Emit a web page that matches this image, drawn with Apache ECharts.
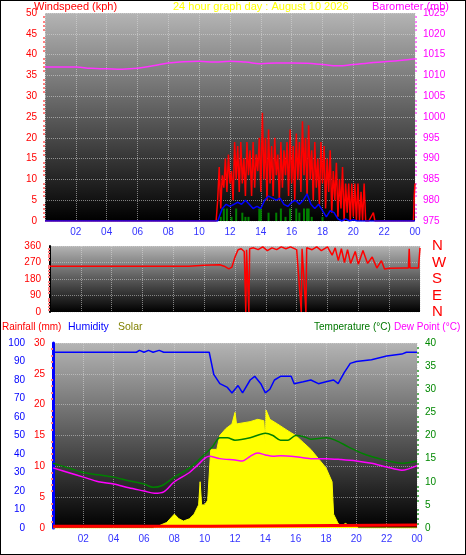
<!DOCTYPE html>
<html><head><meta charset="utf-8">
<script src="https://cdn.jsdelivr.net/npm/echarts@6/dist/echarts.min.js"></script>
<style>html,body{margin:0;padding:0;background:#fff}#c{width:466px;height:555px;box-sizing:border-box;border:1px solid #000}</style>
</head><body><div id="c"></div>
<script>
// ---- data ----
var hourTicks = ['02','04','06','08','10','12','14','16','18','20','22','00'];
var gustStart = 11.0, gustStep = 0.1;
var gust = [0,0,5,13,3,11,8,15,7,16,9,12,5,19,10,18,7,19,9,15,6,19,11,17,6,19,8,16,12,20,7,26,10,20,5,22,9,18,6,20,11,16,5,19,8,17,11,19,6,22,9,18,5,21,10,19,7,24,11,20,6,23,10,17,5,19,8,15,4,19,9,18,3,15,7,17,2,12,5,14,1,10,3,13,0,9,2,9,0,9,1,9,0,9,0,7,0,9,0,0,0];
var gustTail = [[0,0],[11.0,0],[21.0,0],[21.3,2],[21.4,0],[23.9,0],[23.95,6],[24,9]];
var windStart = 11.25, windStep = 0.25;
var wind = [0,3,4,3.5,4,4.5,4,5,4,3,3.5,3,5,6,5.5,5,5.5,4,3.5,4.5,5,4,5,6.5,4,3,4,2.5,1,2.5,2,0.5,0,0.5,0,0.3,0,0];
var lullHours = [11.4,11.6,11.8,12.1,12.4,12.8,13.0,13.2,13.9,14.0,14.5,15.0,15.3,15.6,15.9,16.3,16.5,16.8,17.0,17.1,17.3,18.0];
var lull =      [1,3,3,1,3,2,1,1,3,3,2,2,3,1,3,3,2,3,3,3,1,1];
var baro = [[0,1012],[1,1012],[2,1012],[3,1011.7],[4,1011.6],[5,1011.5],[6,1011.7],[7,1012.3],[8,1013],[9,1013.3],[10,1013.4],[11,1013.2],[12,1013.4],[13,1013.2],[14,1012.8],[15,1013],[16,1013],[17,1012.9],[18,1012.6],[19,1012.3],[20,1012.6],[21,1013],[22,1013.3],[23,1013.6],[24,1014]];
var windDir = [[0,250],[9,250],[10,255],[11,258],[11.3,250],[11.6,235],[11.8,245],[12,300],[12.2,340],[12.4,345],[12.6,330],[12.7,0],[12.75,340],[12.9,0],[12.95,345],[13.2,350],[13.5,340],[13.8,355],[14.1,335],[14.4,350],[14.7,340],[15.0,355],[15.3,345],[15.6,355],[16.0,340],[16.3,0],[16.35,345],[16.6,0],[16.65,350],[17.0,340],[17.3,355],[17.6,335],[18.0,355],[18.3,310],[18.5,350],[18.7,280],[18.9,345],[19.1,270],[19.3,340],[19.5,265],[19.8,330],[20.0,260],[20.3,335],[20.6,265],[20.9,300],[21.2,240],[21.5,280],[21.7,235],[22,238],[23,240],[23.25,240],[23.3,345],[23.35,240],[23.9,240],[24,350]];
var humidity = [[0,95],[5.5,95],[5.7,96],[6,95],[6.3,96],[6.6,95],[7,96],[7.3,95],[10.3,95],[10.6,83],[11,78],[11.5,76],[11.8,73],[12.2,77],[12.5,73],[13,80],[13.3,82],[13.7,78],[14,73],[14.3,75],[14.6,80],[15,82],[15.7,82],[15.9,78],[16.5,79],[17,80],[17.5,78],[18,79],[18.5,80],[18.8,78],[19.2,84],[19.6,89],[20,90],[21,91],[22,93],[23,94],[23.3,95],[24,95]];
var temp = [[0,14],[1,13],[2,12],[3,11.5],[4,11],[5,10.2],[6,9.5],[6.6,8.8],[7.2,9.2],[8,11],[9,13],[9.7,15],[10.5,17.5],[11,19.5],[11.5,19.5],[12,19],[13,19.5],[14,20.5],[14.5,20],[15,19],[15.5,19],[16,20],[16.5,19.8],[17,19.2],[18,19.5],[18.6,19],[19.5,17.5],[20.5,16],[21.5,15],[22.5,14.2],[23,14],[24,14.5]];
var dew = [[0,13],[1,12],[2,11],[3,10],[4,9.5],[5,8.7],[6,8],[6.7,7.5],[7.3,7.8],[8,10],[9,12],[9.5,13.5],[10.3,15.5],[11,15],[12,14.7],[12.5,14.5],[13,15.5],[13.5,16.2],[14,15.8],[14.5,15.5],[15,15.6],[16,15.4],[17,15],[18,15],[19,14.8],[20,14.5],[21,14],[22,13.2],[23,12.5],[24,13.5]];
var solar = [[0,0],[6.6,0],[7,0.5],[7.5,1.2],[8,3],[8.3,2],[8.6,1.5],[9,2],[9.3,3],[9.6,5],[9.7,10],[9.8,5],[10,5],[10.2,6],[10.4,17],[10.8,17],[11,20],[11.4,21.5],[11.8,22.5],[12,25],[12.1,22.5],[13,23],[13.5,23.5],[13.9,23.2],[14,18],[14.05,25.5],[14.3,23.5],[14.8,22.5],[15.5,21],[16,20],[16.5,18.5],[17,17],[17.5,15],[18,13],[18.4,10],[18.5,3],[18.8,1],[19,0.5],[19.3,1],[19.5,0.5],[20,0.5],[20.1,0],[24,0]];
var rain = [[0,0.3],[10.4,0.3],[10.5,0.5],[24,0.5]];
var dirLabels = {0:'N',90:'E',180:'S',270:'W',360:'N'};

// ---- build ----
function seq(start, step, vals){ return vals.map(function(v,i){ return [+(start+i*step).toFixed(3), v]; }); }
var gustData = [[0,0],[10.95,0]].concat(seq(gustStart,gustStep,gust)).concat(gustTail.slice(2));
var windData = [[0,0],[11.2,0]].concat(seq(windStart,windStep,wind)).concat([[24,0]]);
var lullData = lullHours.map(function(h,i){return [h,lull[i]];});

var font = 'Liberation Sans';
function bg(){ return {type:'linear',x:0,y:0,x2:0,y2:1,colorStops:[{offset:0,color:'#b4b4b4'},{offset:1,color:'#000'}]}; }
function xAx(gi, show){
  return {type:'value',gridIndex:gi,min:0,max:24,interval:2,
    axisLine:{show:false},axisTick:{show:false},
    splitLine:{show:true,lineStyle:{color:'rgba(220,220,220,0.55)',type:'dotted'}},
    minorTick:{show:false},
    axisLabel:{show:show,color:'#3333ff',fontSize:10,fontFamily:font,margin:6,
      formatter:function(v){ if(v===0) return ''; var i=v/2-1; return hourTicks[i]; }}};
}
function yAx(gi,o){
  var base = {type:'value',gridIndex:gi,axisTick:{show:false},
    splitLine:{show:false},
    axisLabel:{fontSize:10,fontFamily:font,margin:7},
    minorTick:{show:true,splitNumber:5,length:3,lineStyle:{type:'dotted',width:2}},
    axisLine:{show:false}};
  return Object.assign(base,o);
}
function t(x,y,s,c,f){ return {type:'text',left:x,top:y,style:{text:s,fill:c,font:(f||11)+'px '+font}}; }
var chart = echarts.init(document.getElementById('c'),null,{renderer:'canvas'});
chart.setOption({
  animation:false,
  textStyle:{fontFamily:font},
  graphic:[
    t(33,0,'Windspeed (kph)','#ff0000'),
    t(172,0,'24 hour graph day : August 10 2026','#ffff00'),
    t(371,0,'Barometer (mb)','#ff00ff'),
    t(1,321,'Rainfall (mm)','#ff0000',10),
    t(67,321,'Humidity','#0000ff',10.5),
    t(117,321,'Solar','#808000',10.5),
    t(313,321,'Temperature (°C)','#007700',10),
    t(393,321,'Dew Point (°C)','#ff00ff',10)
  ],
  grid:[
    {left:44,right:50,top:12,height:208,show:true,backgroundColor:bg(),borderWidth:0},
    {left:49,right:45,top:245,height:66,show:true,backgroundColor:bg(),borderWidth:0},
    {left:52,right:48,top:342,height:185,show:true,backgroundColor:bg(),borderWidth:0}
  ],
  xAxis:[xAx(0,true),xAx(1,false),xAx(2,true)],
  yAxis:[
    yAx(0,{min:0,max:50,interval:5,position:'left',axisLabel:{color:'#ff0000',fontSize:10,fontFamily:font,margin:8},minorTick:{show:true,splitNumber:5,length:3,lineStyle:{color:'#ff8080',type:'dotted',width:2}},splitLine:{show:true,lineStyle:{color:'rgba(220,220,220,0.55)',type:'dotted'}}}),
    yAx(0,{min:975,max:1025,interval:5,position:'right',axisLabel:{color:'#ff00ff',fontSize:10,fontFamily:font,margin:8,formatter:function(v){return String(v);}},minorTick:{show:true,splitNumber:5,length:3,lineStyle:{color:'#ff80ff',type:'dotted',width:2}}}),
    yAx(1,{min:0,max:360,interval:90,position:'left',axisLabel:{color:'#ff0000',fontSize:10,fontFamily:font,margin:9},axisLine:{show:true,lineStyle:{color:'#000',width:2}},minorTick:{show:true,splitNumber:6,length:3,lineStyle:{color:'#ff8080',type:'dotted',width:2}},splitLine:{show:true,lineStyle:{color:'rgba(220,220,220,0.5)',type:'dotted'}}}),
    yAx(1,{min:0,max:360,interval:90,position:'right',minorTick:{show:false},axisLabel:{color:'#ff0000',fontSize:15,fontFamily:font,margin:12,formatter:function(v){return dirLabels[v];}}}),
    yAx(2,{min:0,max:100,interval:10,position:'left',offset:22,axisLine:{show:true,lineStyle:{color:'#0000ff',width:3}},axisLabel:{color:'#0000ff',fontSize:10,fontFamily:font,margin:6},minorTick:{show:false}}),
    yAx(2,{min:0,max:30,interval:5,position:'left',axisLabel:{color:'#ff0000',fontSize:10,fontFamily:font,margin:8},minorTick:{show:true,splitNumber:5,length:3,lineStyle:{color:'#ff8080',type:'dotted',width:2}},splitLine:{show:true,lineStyle:{color:'rgba(220,220,220,0.5)',type:'dotted'}}}),
    yAx(2,{min:0,max:40,interval:5,position:'right',axisLabel:{color:'#008800',fontSize:10,fontFamily:font,margin:8},minorTick:{show:true,splitNumber:5,length:3,lineStyle:{color:'#60b060',type:'dotted',width:2}}}),
    yAx(2,{min:0,max:40,position:'right',show:false})
  ],
  series:[
    {type:'line',xAxisIndex:0,yAxisIndex:1,data:baro,symbol:'none',lineStyle:{color:'#ff33ff',width:1.5},smooth:true},
    {type:'bar',xAxisIndex:0,yAxisIndex:0,data:lullData,barWidth:2,itemStyle:{color:'#008000'}},
    {type:'line',xAxisIndex:0,yAxisIndex:0,data:gustData,symbol:'none',lineStyle:{color:'#ff0000',width:1.5}},
    {type:'line',xAxisIndex:0,yAxisIndex:0,data:windData,symbol:'none',lineStyle:{color:'#0000ff',width:1.5},z:3},
    {type:'line',xAxisIndex:1,yAxisIndex:2,data:windDir,symbol:'none',lineStyle:{color:'#ff0000',width:1.5}},
    {type:'line',xAxisIndex:2,yAxisIndex:7,data:solar,symbol:'none',lineStyle:{color:'#ffff00',width:1},areaStyle:{color:'#ffff00',opacity:1}},
    {type:'line',xAxisIndex:2,yAxisIndex:4,data:humidity,symbol:'none',lineStyle:{color:'#0000ff',width:1.5}},
    {type:'line',xAxisIndex:2,yAxisIndex:6,data:temp,symbol:'none',lineStyle:{color:'#008000',width:1.5},smooth:0.3},
    {type:'line',xAxisIndex:2,yAxisIndex:6,data:dew,symbol:'none',lineStyle:{color:'#ff00ff',width:1.5},smooth:0.3},
    {type:'line',xAxisIndex:2,yAxisIndex:5,data:rain,symbol:'none',step:'end',lineStyle:{color:'#ff0000',width:3}}
  ]
});
</script></body></html>
